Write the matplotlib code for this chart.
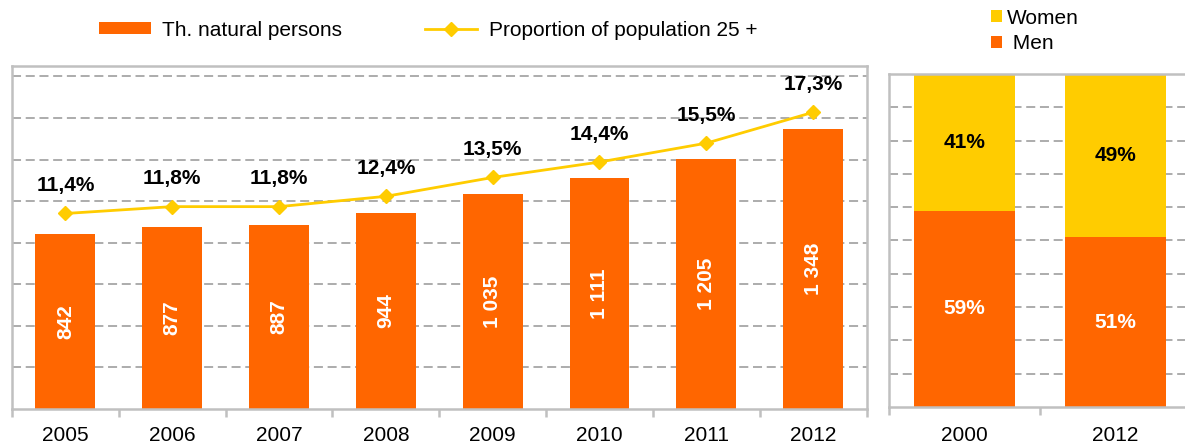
import numpy as np
import matplotlib.pyplot as plt
from matplotlib.patches import Patch
from matplotlib.lines import Line2D

plt.rcParams['font.family'] = ['Liberation Sans', 'DejaVu Sans']

# natural persons (thousands) and share of population 25+
years = ['2005', '2006', '2007', '2008', '2009', '2010', '2011', '2012']
persons = [842, 877, 887, 944, 1035, 1111, 1205, 1348]
persons_text = ['842', '877', '887', '944', '1 035', '1 111', '1 205', '1 348']
share_25 = [11.4, 11.8, 11.8, 12.4, 13.5, 14.4, 15.5, 17.3]

# gender split
gender_years = ['2000', '2012']
men = [59, 51]
women = [41, 49]

ORANGE = '#FF6600'
YELLOW = '#FFCC00'
GRID = '#A6A6A6'
FRAME = '#C0C0C0'
FS = 15

fig = plt.figure(figsize=(11.85, 4.44), dpi=100)


def style_axes(ax):
    for s in ax.spines.values():
        s.set_color(FRAME)
        s.set_linewidth(1.8)
    ax.yaxis.grid(True, linestyle=(0, (5, 2.6)), color=GRID, lw=1.3)
    ax.set_axisbelow(True)
    ax.tick_params(axis='y', length=0, labelleft=False)


# left panel: bars + line
ax = fig.add_axes([12 / 1185, 35 / 444, 854.5 / 1185, 343 / 444])
x = np.arange(len(years))
ax.bar(x, persons, width=0.56, color=ORANGE, zorder=2)
ax.set_xlim(-0.5, len(years) - 0.5)
ax.set_ylim(0, 1650)
ax.set_yticks(np.arange(200, 1601, 200))
style_axes(ax)
ax.set_xticks(np.arange(-0.5, len(years), 1))
ax.set_xticklabels([])
ax.set_xticks(x, minor=True)
ax.set_xticklabels(years, minor=True)
ax.tick_params(axis='x', which='major', length=6, width=1.8, color=FRAME)
ax.tick_params(axis='x', which='minor', length=0, labelsize=FS, pad=12)
for xi, v, t in zip(x, persons, persons_text):
    ax.text(xi, v / 2, t, rotation=90, ha='center', va='center',
            color='white', fontweight='bold', fontsize=FS, zorder=3)

ax2 = ax.twinx()
ax2.set_ylim(0, 20)
ax2.axis('off')
ax2.plot(x, share_25, color=YELLOW, lw=2, marker='D', markersize=7, zorder=4)
for xi, v in zip(x, share_25):
    ax2.annotate(f'{v:.1f}%'.replace('.', ','), (xi, v), xytext=(0, 20),
                 textcoords='offset points', ha='center', va='center',
                 fontweight='bold', fontsize=FS)

# right panel: stacked 100% bars
axr = fig.add_axes([889 / 1185, 37 / 444, 302 / 1185, 333 / 444])
xr = np.arange(len(gender_years))
axr.bar(xr, men, width=0.667, color=ORANGE, zorder=2)
axr.bar(xr, women, bottom=men, width=0.667, color=YELLOW, zorder=2)
axr.set_xlim(-0.5, len(gender_years) - 0.5)
axr.set_ylim(0, 100)
axr.set_yticks(np.arange(10, 100, 10))
style_axes(axr)
axr.set_xticks(np.arange(-0.5, len(gender_years), 1))
axr.set_xticklabels([])
axr.set_xticks(xr, minor=True)
axr.set_xticklabels(gender_years, minor=True)
axr.tick_params(axis='x', which='major', length=6, width=1.8, color=FRAME)
axr.tick_params(axis='x', which='minor', length=0, labelsize=FS, pad=14)
for xi, m, w in zip(xr, men, women):
    axr.text(xi, m / 2, f'{m}%', ha='center', va='center', color='white',
             fontweight='bold', fontsize=FS, zorder=3)
    axr.text(xi, m + w / 2, f'{w}%', ha='center', va='center', color='black',
             fontweight='bold', fontsize=FS, zorder=3)

# legends
h_bar = Patch(facecolor=ORANGE, edgecolor='none')
h_line = Line2D([], [], color=YELLOW, lw=2, marker='D', markersize=7)
fig.legend([h_bar, h_line], ['Th. natural persons', 'Proportion of population 25 +'],
           loc='center', bbox_to_anchor=(428 / 1185, 1 - 30 / 444), ncol=2,
           frameon=False, fontsize=FS, handlelength=2.5, handleheight=0.53,
           columnspacing=4.0, handletextpad=0.53)

h_w = Patch(facecolor=YELLOW, edgecolor='none')
h_m = Patch(facecolor=ORANGE, edgecolor='none')
fig.legend([h_w, h_m], ['Women', ' Men'], loc='center left',
           bbox_to_anchor=(991 / 1185, 1 - 31 / 444), frameon=False,
           fontsize=FS, handlelength=0.53, handleheight=0.53,
           handletextpad=0.25, labelspacing=0.32, borderaxespad=0,
           borderpad=0)

fig.savefig('out.png', dpi=100)
